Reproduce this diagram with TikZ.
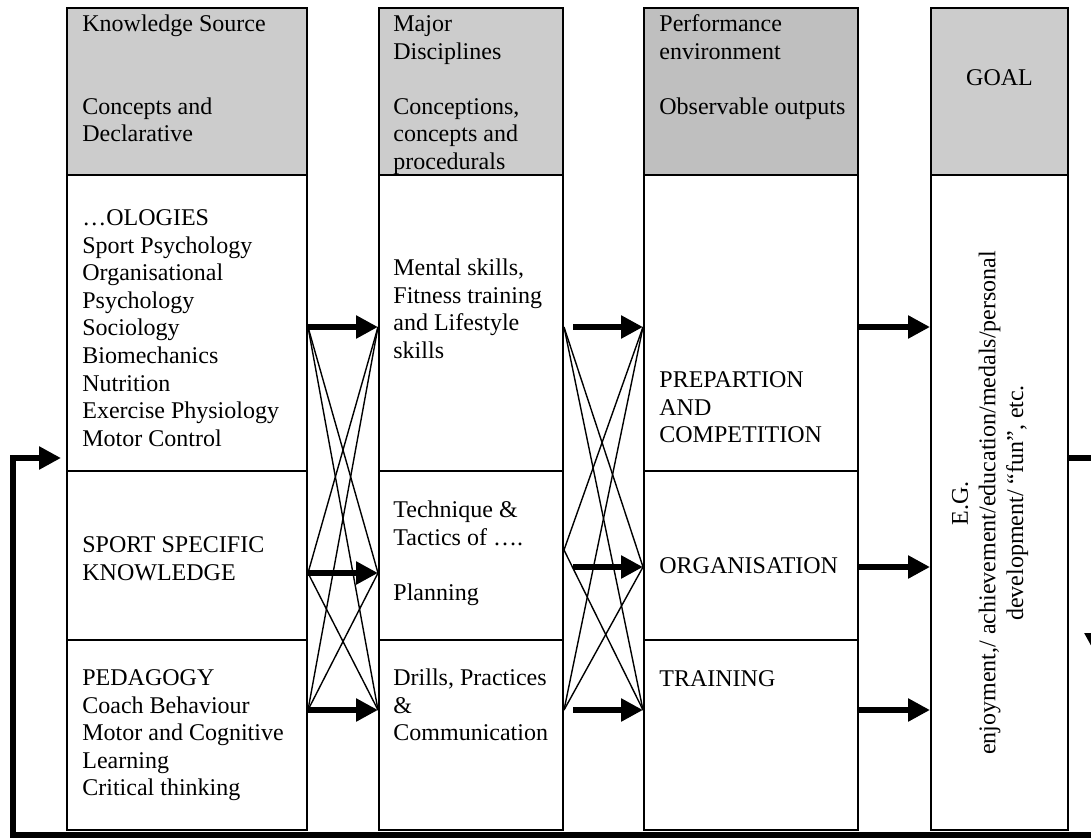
\documentclass[tikz,border=0pt]{standalone}
\usepackage{fontspec}
\setmainfont{Liberation Serif}
\usetikzlibrary{arrows.meta,fit,calc}

\tikzset{
  cell/.style={draw,line width=1pt,inner sep=0pt},
  head/.style={cell,fill=black!20},
  txt/.style={font=\fontsize{12}{13.8}\selectfont,align=left,anchor=north west,inner sep=0pt},
  bigarrow/.style={line width=3.2pt,-{Triangle[length=11pt,width=11pt]}},
  cross/.style={line width=0.7pt},
  loopline/.style={line width=3pt},
}

\begin{document}
\begin{tikzpicture}[x=0.5pt,y=-0.5pt]
\useasboundingbox (0,0) rectangle (1091,839);

% columns
\node[head,fit={(67,8) (307,175)}] (kh) {};
\node[cell,fit={(67,175) (307,471)}] (ka) {};
\node[cell,fit={(67,471) (307,640)}] (kb) {};
\node[cell,fit={(67,640) (307,830)}] (kc) {};

\node[head,fit={(379,8) (563,175)}] (dh) {};
\node[cell,fit={(379,175) (563,471)}] (da) {};
\node[cell,fit={(379,471) (563,640)}] (db) {};
\node[cell,fit={(379,640) (563,830)}] (dc) {};

\node[head,fill=black!25,fit={(644,8) (858,175)}] (ph) {};
\node[cell,fit={(644,175) (858,471)}] (pa) {};
\node[cell,fit={(644,471) (858,640)}] (pb) {};
\node[cell,fit={(644,640) (858,830)}] (pc) {};

\node[head,fit={(931,8) (1068,175)}] (gh) {};
\node[cell,fit={(931,175) (1068,830)}] (gb) {};

% texts
\node[txt] (kht) at (82,11.7) {\strut Knowledge Source\\[27.6pt]Concepts and\\Declarative};
\node[txt] (dht) at (393,11.7) {\strut Major\\Disciplines\\[13.8pt]Conceptions,\\concepts and\\procedurals};
\node[txt] (pht) at (659,11.7) {\strut Performance\\environment\\[13.8pt]Observable outputs};
\node[font=\fontsize{12}{13.8}\selectfont,anchor=base,inner sep=0pt] (ght) at (999.5,86) {GOAL};

\node[txt] (kat) at (82,205.7) {\strut …OLOGIES\\Sport Psychology\\Organisational\\Psychology\\Sociology\\Biomechanics\\Nutrition\\Exercise Physiology\\Motor Control};
\node[txt] (kbt) at (82,532.7) {\strut SPORT SPECIFIC\\KNOWLEDGE};
\node[txt] (kct) at (82,665.7) {\strut PEDAGOGY\\Coach Behaviour\\Motor and Cognitive\\Learning\\Critical thinking};

\node[txt] (dat) at (393,255.7) {\strut Mental skills,\\Fitness training\\and Lifestyle\\skills};
\node[txt] (dbt) at (393,497.7) {\strut Technique \&\\Tactics of ….\\[13.8pt]Planning};
\node[txt] (dct) at (393,665.7) {\strut Drills, Practices\\\&\\Communication};

\node[txt] (pat) at (659,367.7) {\strut PREPARTION\\AND\\COMPETITION};
\node[txt] (pbt) at (659,553.7) {\strut ORGANISATION};
\node[txt] (pct) at (659,666.7) {\strut TRAINING};

\node[font=\fontsize{12}{13.8}\selectfont,align=center,rotate=90,inner sep=0pt] (gbt) at (990,503)
  {E.G.\\enjoyment,/ achievement/education/medals/personal\\development/ “fun”, etc.};

% levels of the arrows
\coordinate (lvA) at (0,327);
\coordinate (lvB) at (0,573);
\coordinate (lvC) at (0,710);
\coordinate (lvBb) at (0,567);
\coordinate (lvBl) at (0,550);

% knowledge -> disciplines
\foreach \s/\t in {lvA/lvB,lvA/lvC,lvB/lvA,lvB/lvC,lvC/lvA,lvC/lvB}
  \draw[cross] (ka.east |- \s) -- (da.west |- \t);
\foreach \l in {lvA,lvB,lvC}
  \draw[bigarrow] (ka.east |- \l) -- (da.west |- \l);

% disciplines -> performance
\foreach \s/\t in {lvA/lvBb,lvA/lvC,lvBl/lvA,lvBl/lvC,lvC/lvA,lvC/lvBb}
  \draw[cross] (da.east |- \s) -- (pa.west |- \t);
\foreach \l in {lvA,lvBb,lvC}
  \draw[bigarrow,shorten <=4.5pt] (da.east |- \l) -- (pa.west |- \l);

% performance -> goal
\draw[bigarrow] (pa.east |- lvA) -- (gb.west |- lvA);
\draw[bigarrow] (pb.east |- lvBb) -- (gb.west |- lvBb);
\draw[bigarrow] (pc.east |- lvC) -- (gb.west |- lvC);

% feedback loop
\coordinate (fbR) at (1096,458);
\coordinate (fbM) at (1096,655);
\coordinate (fbD) at (1096,835);
\coordinate (fbL) at (13,835);
\coordinate (fbU) at (13,458);
\draw[loopline,-{Triangle[length=11pt,width=11pt]}] (gb.east |- fbR) -- (fbR) -- (fbM);
\draw[loopline,-{Triangle[length=11pt,width=11pt]},shorten >=2.5pt] (fbM) -- (fbD) -- (fbL) -- (fbU) -- (ka.west |- fbU);

\end{tikzpicture}
\end{document}
